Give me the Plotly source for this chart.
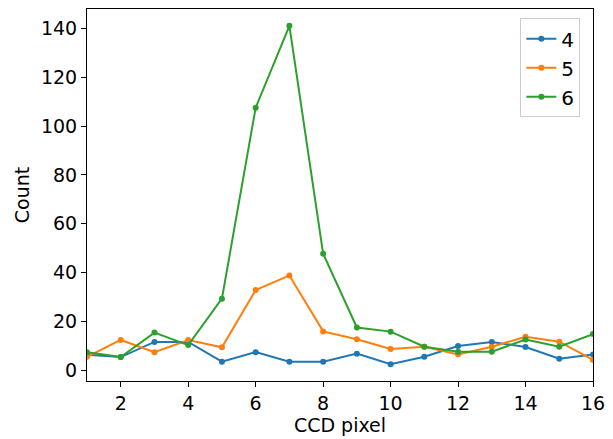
import plotly.graph_objects as go

pixels = list(range(1, 17))
series_names = ["4", "5", "6"]
counts_4 = [6.4, 5.5, 11.7, 11.7, 3.6, 7.5, 3.6, 3.6, 6.9, 2.6, 5.6, 10.0, 11.7, 9.6, 4.8, 6.5]
counts_5 = [5.6, 12.5, 7.5, 12.5, 9.5, 32.9, 38.9, 16.0, 12.8, 8.8, 9.7, 6.6, 9.7, 13.8, 11.8, 4.3]
counts_6 = [7.5, 5.5, 15.5, 10.4, 29.4, 107.5, 141.0, 47.8, 17.6, 15.9, 9.7, 7.7, 7.7, 12.7, 9.7, 14.9]
colors = ["#1f77b4", "#ff7f0e", "#2ca02c"]
x_ticks = [2, 4, 6, 8, 10, 12, 14, 16]
y_ticks = [0, 20, 40, 60, 80, 100, 120, 140]

fig = go.Figure()
for name, ys, c in zip(series_names, [counts_4, counts_5, counts_6], colors):
    fig.add_trace(go.Scatter(x=pixels, y=ys, name=name, mode="lines+markers",
                             line=dict(color=c, width=2),
                             marker=dict(color=c, size=6)))

axis_common = dict(showline=True, linecolor="black", linewidth=1, mirror=True,
                   ticks="outside", ticklen=5, tickcolor="black", showgrid=False,
                   zeroline=False, tickfont=dict(size=19, color="black"))
fig.update_layout(
    width=613, height=439,
    margin=dict(l=87, r=14, t=8, b=58),
    plot_bgcolor="white", paper_bgcolor="white",
    font=dict(family="DejaVu Sans", size=19, color="black"),
    xaxis=dict(range=[1, 16], tickvals=x_ticks,
               title=dict(text="CCD pixel", font=dict(size=19), standoff=4), **axis_common),
    yaxis=dict(range=[-4.3, 147.9], tickvals=y_ticks,
               title=dict(text="Count", font=dict(size=19), standoff=6), **axis_common),
    legend=dict(x=0.975, y=0.975, xanchor="right", yanchor="top",
                bordercolor="#cccccc", borderwidth=1, bgcolor="rgba(255,255,255,0.8)",
                font=dict(size=20), tracegroupgap=0),
)
fig.write_html("out.html")
